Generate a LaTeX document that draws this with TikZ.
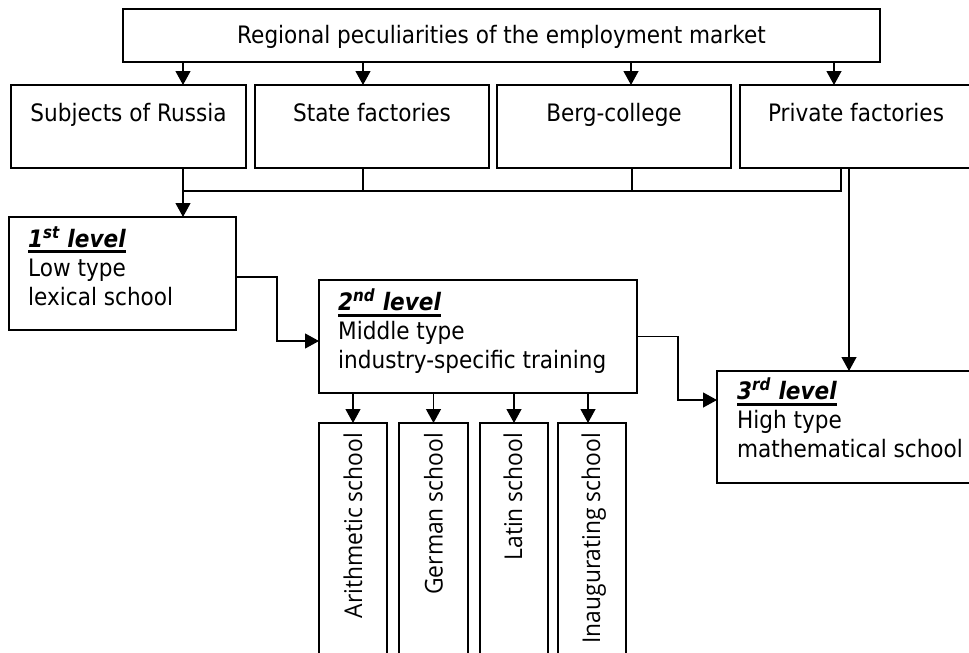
\documentclass[tikz,border=0pt]{standalone}
\usepackage{fontspec}
\setmainfont[FakeStretch=0.9]{DejaVu Sans}
\newfontfamily\vfont[FakeStretch=0.93]{Open Sans}
\usetikzlibrary{arrows.meta}
\newcommand\myul[1]{\setbox0=\hbox{#1}\rlap{\rule[-6pt]{\wd0}{3.2pt}}\box0}
\newcommand\lvl[2]{\myul{\bfseries\itshape #1\textsuperscript{#2} level}}
\begin{document}
\begin{tikzpicture}[x=1pt,y=-1pt,
 box/.style={draw, line width=1.2pt, inner sep=0pt, outer sep=0pt, anchor=north west},
 txt/.style={inner sep=0pt, font=\fontsize{24}{28.8}\selectfont},
 ltxt/.style={txt, align=left, anchor=base west},
 vtxt/.style={inner sep=0pt, rotate=90, anchor=base east, font=\vfont\fontsize{24.5}{28}\selectfont},
 link/.style={line width=1.2pt},
 arr/.style={line width=1.2pt, -{Triangle[length=14pt,width=15pt]}}]
\useasboundingbox (0,0) rectangle (969,653);
\fill[white] (0,0) rectangle (969,653);
% top box
\node[box, minimum width=757pt, minimum height=53pt] (top) at (123,9) {};
\node[txt, anchor=base] (toptxt) at ([yshift=-34pt]top.north) {Regional peculiarities of the employment market};
% row boxes
\node[box, minimum width=235pt, minimum height=83pt] (r1) at (11,85) {};
\node[box, minimum width=234pt, minimum height=83pt] (r2) at (255,85) {};
\node[box, minimum width=234pt, minimum height=83pt] (r3) at (497,85) {};
\node[box, minimum width=232pt, minimum height=83pt] (r4) at (740,85) {};
\node[txt, anchor=base] (r1t) at ([yshift=-36pt]r1.north) {Subjects of Russia};
\node[txt, anchor=base] (r2t) at ([yshift=-36pt]r2.north) {State factories};
\node[txt, anchor=base] (r3t) at ([yshift=-36pt]r3.north) {Berg-college};
\node[txt, anchor=base] (r4t) at ([yshift=-36pt]r4.north) {Private factories};
% level boxes
\node[box, minimum width=227pt, minimum height=113pt] (b1) at (9,217) {};
\node[box, minimum width=318pt, minimum height=113pt] (b2) at (319,280) {};
\node[box, minimum width=260pt, minimum height=112pt] (b3) at (717,371) {};
\node[ltxt] (b1t) at ([xshift=19pt,yshift=-88pt]b1.north west) {\lvl{1}{st}\\Low type\\lexical school};
\node[ltxt] (b2t) at ([xshift=19pt,yshift=-88.5pt]b2.north west) {\lvl{2}{nd}\\Middle type\\industry-specific training};
\node[ltxt] (b3t) at ([xshift=20pt,yshift=-86.5pt]b3.north west) {\lvl{3}{rd}\\High type\\mathematical school};
% school boxes
\node[box, minimum width=68pt, minimum height=280pt] (s1) at (319,423) {};
\node[box, minimum width=69pt, minimum height=280pt] (s2) at (399,423) {};
\node[box, minimum width=68pt, minimum height=280pt] (s3) at (480,423) {};
\node[box, minimum width=68pt, minimum height=280pt] (s4) at (558,423) {};
\node[vtxt] (s1t) at ([xshift=9pt,yshift=-10pt]s1.north) {Arithmetic school};
\node[vtxt] (s2t) at ([xshift=9pt,yshift=-10pt]s2.north) {German school};
\node[vtxt] (s3t) at ([xshift=8pt,yshift=-10pt]s3.north) {Latin school};
\node[vtxt] (s4t) at ([xshift=8pt,yshift=-10pt]s4.north) {Inaugurating school};
% coordinates for connector columns
\coordinate (a1) at (183,0);
\coordinate (a2) at (363,0);
\coordinate (a3) at (631,0);
\coordinate (a4) at (834,0);
\coordinate (t3) at (632,0);
\coordinate (t4) at (841,0);
\coordinate (p4) at (849,0);
\coordinate (hy) at (0,191);
\coordinate (q4) at (588,0);
% top arrows
\draw[arr] (a1 |- top.south) -- (a1 |- r1.north);
\draw[arr] (a2 |- top.south) -- (a2 |- r2.north);
\draw[arr] (a3 |- top.south) -- (a3 |- r3.north);
\draw[arr] (a4 |- top.south) -- (a4 |- r4.north);
% collector
\draw[link] (t4 |- r4.south) -- (t4 |- hy) -- (a1 |- hy);
\draw[link] (a2 |- r2.south) -- (a2 |- hy);
\draw[link] (t3 |- r3.south) -- (t3 |- hy);
\draw[arr] (a1 |- r1.south) -- (a1 |- b1.north);
\draw[arr] (p4 |- r4.south) -- (p4 |- b3.north);
% level links
\draw[arr] ([yshift=-3.5pt]b1.east) -- ++(41,0) |- ([yshift=-4.5pt]b2.west);
\draw[arr] (b2.east) -- ++(41,0) |- ([yshift=27pt]b3.west);
% school arrows
\draw[arr] (s1.north |- b2.south) -- (s1.north);
\draw[arr] (s2.north |- b2.south) -- (s2.north);
\draw[arr] (s3.north |- b2.south) -- (s3.north);
\draw[arr] (q4 |- b2.south) -- (q4 |- s4.north);
\end{tikzpicture}
\end{document}
